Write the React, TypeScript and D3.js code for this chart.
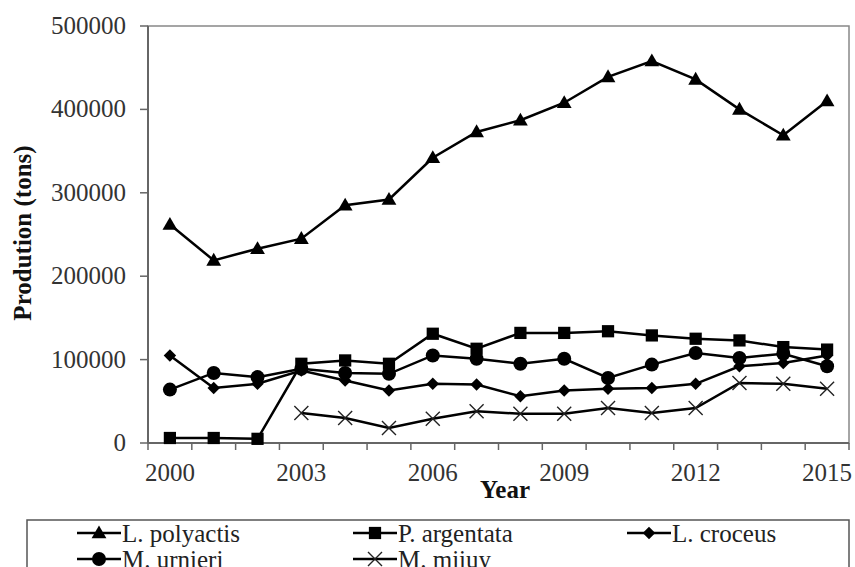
import React, { useEffect, useRef } from 'react';
import * as d3 from 'd3';

const years = [2000, 2001, 2002, 2003, 2004, 2005, 2006, 2007, 2008, 2009, 2010, 2011, 2012, 2013, 2014, 2015];
const yearTicks = [2000, 2003, 2006, 2009, 2012, 2015];
const valueTicks = [0, 100000, 200000, 300000, 400000, 500000];

const polyactis = [262000, 219000, 233000, 245000, 285000, 292000, 342000, 373000, 387000, 408000, 439000, 458000, 436000, 400000, 369000, 410000];
const argentata = [6000, 6000, 5000, 95000, 99000, 95000, 131000, 113000, 132000, 132000, 134000, 129000, 125000, 123000, 115000, 112000];
const croceus = [105000, 66000, 71000, 87000, 75000, 63000, 71000, 70000, 56000, 63000, 65000, 66000, 71000, 92000, 96000, 105000];
const urnieri = [64000, 84000, 79000, 89000, 84000, 83000, 105000, 101000, 95000, 101000, 78000, 94000, 108000, 102000, 107000, 92000];
const miiuy = [null, null, null, 36000, 30000, 18000, 29000, 38000, 35000, 35000, 42000, 36000, 42000, 72000, 71000, 65000];

const series = [
  { name: 'L. polyactis', values: polyactis, symbol: 'triangle' },
  { name: 'P. argentata', values: argentata, symbol: 'square' },
  { name: 'L. croceus', values: croceus, symbol: 'diamond' },
  { name: 'M. urnieri', values: urnieri, symbol: 'circle' },
  { name: 'M. miiuy', values: miiuy, symbol: 'x' },
];

const FONT = '"Liberation Serif", "Times New Roman", serif';

const drawMarker = (g: any, kind: string, x: number, y: number) => {
  if (kind === 'triangle') {
    g.append('path')
      .attr('d', d3.symbol().type(d3.symbolTriangle).size(95)())
      .attr('transform', `translate(${x},${y + 1})`)
      .attr('fill', '#000');
  } else if (kind === 'square') {
    g.append('path')
      .attr('d', d3.symbol().type(d3.symbolSquare).size(150)())
      .attr('transform', `translate(${x},${y})`)
      .attr('fill', '#000');
  } else if (kind === 'diamond') {
    g.append('path')
      .attr('d', d3.symbol().type(d3.symbolSquare).size(78)())
      .attr('transform', `translate(${x},${y}) rotate(45)`)
      .attr('fill', '#000');
  } else if (kind === 'circle') {
    g.append('circle')
      .attr('cx', x)
      .attr('cy', y)
      .attr('r', 7)
      .attr('fill', '#000');
  } else {
    const s = 7;
    g.append('path')
      .attr('d', `M${x - s},${y - s}L${x + s},${y + s}M${x - s},${y + s}L${x + s},${y - s}`)
      .attr('stroke', '#222')
      .attr('stroke-width', 1.4)
      .attr('fill', 'none');
  }
};

const Chart: React.FC = () => {
  const svgRef = useRef<SVGSVGElement>(null);

  useEffect(() => {
    if (!svgRef.current) return;
    const svg = d3.select(svgRef.current);
    svg.selectAll('*').remove();

    const left = 148;
    const right = 849;
    const top = 26;
    const bottom = 443;

    const x = d3.scaleBand<number>().domain(years).range([left, right]);
    const y = d3.scaleLinear().domain([0, 500000]).range([bottom, top]);
    const cx = (yr: number) => (x(yr) as number) + x.bandwidth() / 2;

    // frame
    svg.append('rect')
      .attr('x', left)
      .attr('y', top)
      .attr('width', right - left)
      .attr('height', bottom - top)
      .attr('fill', 'none')
      .attr('stroke', '#888')
      .attr('stroke-width', 1.5);
    svg.append('line')
      .attr('x1', left).attr('x2', left).attr('y1', top).attr('y2', bottom)
      .attr('stroke', '#666').attr('stroke-width', 2);
    svg.append('line')
      .attr('x1', left).attr('x2', right).attr('y1', bottom).attr('y2', bottom)
      .attr('stroke', '#666').attr('stroke-width', 2);

    // y ticks
    valueTicks.forEach((v) => {
      svg.append('line')
        .attr('x1', left - 8).attr('x2', left)
        .attr('y1', y(v)).attr('y2', y(v))
        .attr('stroke', '#666').attr('stroke-width', 1.5);
      svg.append('text')
        .attr('x', 126)
        .attr('y', y(v) + 8)
        .attr('text-anchor', 'end')
        .attr('font-family', FONT)
        .attr('font-size', '25px')
        .attr('fill', '#333')
        .text(v);
    });

    // x ticks at category boundaries
    years.concat([years[years.length - 1] + 1]).forEach((yr, i) => {
      const px = i < years.length ? (x(yr) as number) : right;
      svg.append('line')
        .attr('x1', px).attr('x2', px)
        .attr('y1', bottom).attr('y2', bottom + 7)
        .attr('stroke', '#666').attr('stroke-width', 1.5);
    });
    yearTicks.forEach((yr) => {
      svg.append('text')
        .attr('x', cx(yr))
        .attr('y', 481)
        .attr('text-anchor', 'middle')
        .attr('font-family', FONT)
        .attr('font-size', '25px')
        .attr('fill', '#333')
        .text(yr);
    });

    // axis titles
    svg.append('text')
      .attr('x', 505)
      .attr('y', 498)
      .attr('text-anchor', 'middle')
      .attr('font-family', FONT)
      .attr('font-size', '25px')
      .attr('font-weight', 'bold')
      .attr('fill', '#111')
      .text('Year');
    svg.append('text')
      .attr('transform', `translate(31,233) rotate(-90)`)
      .attr('text-anchor', 'middle')
      .attr('font-family', FONT)
      .attr('font-size', '25px')
      .attr('font-weight', 'bold')
      .attr('fill', '#111')
      .text('Prodution (tons)');

    // lines and markers
    series.forEach((s) => {
      const pts = years.map((yr, i) => ({ yr, v: s.values[i] }));
      const line = d3.line<{ yr: number; v: number | null }>()
        .defined((d) => d.v !== null)
        .x((d) => cx(d.yr))
        .y((d) => y(d.v as number));
      svg.append('path')
        .attr('d', line(pts))
        .attr('fill', 'none')
        .attr('stroke', '#000')
        .attr('stroke-width', 2.5);
      const mg = svg.append('g');
      pts.forEach((p) => {
        if (p.v !== null) drawMarker(mg, s.symbol, cx(p.yr), y(p.v));
      });
    });

    // legend
    svg.append('rect')
      .attr('x', 27)
      .attr('y', 520)
      .attr('width', 822)
      .attr('height', 60)
      .attr('fill', 'none')
      .attr('stroke', '#555')
      .attr('stroke-width', 1.5);
    const cols = [77, 353, 627];
    series.forEach((s, i) => {
      const lx = cols[i % 3];
      const ly = 533 + Math.floor(i / 3) * 26;
      svg.append('line')
        .attr('x1', lx).attr('x2', lx + 44)
        .attr('y1', ly).attr('y2', ly)
        .attr('stroke', '#000').attr('stroke-width', 2.5);
      drawMarker(svg, s.symbol, lx + 22, ly);
      svg.append('text')
        .attr('x', lx + 45)
        .attr('y', ly + 9)
        .attr('font-family', FONT)
        .attr('font-size', '25px')
        .attr('fill', '#222')
        .text(s.name);
    });
  }, []);

  return <svg ref={svgRef} width={855} height={567} style={{ display: 'block', background: '#fff' }} />;
};

export default function App() {
  useEffect(() => {
    document.body.style.margin = '0';
  }, []);
  return <Chart />;
}
